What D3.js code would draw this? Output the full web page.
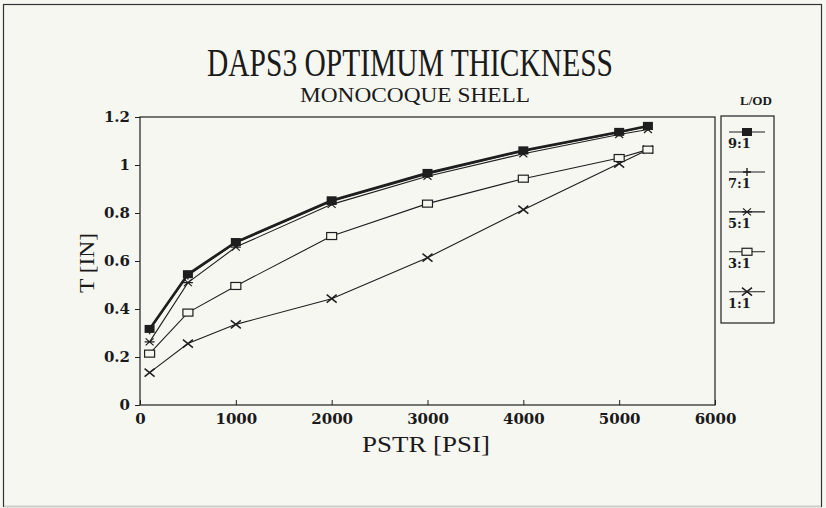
<!DOCTYPE html>
<html>
<head>
<meta charset="utf-8">
<script src="https://cdn.jsdelivr.net/npm/d3@7"></script>
<style>
  body { margin: 0; background: #f7f7f2; }
  svg { display: block; }
  text { font-family: "Liberation Serif", "DejaVu Serif", serif; fill: #1a1a1a; }
</style>
</head>
<body>
<svg id="chart" width="826" height="508"></svg>
<script>
// data
const pstr = [100, 500, 1000, 2000, 3000, 4000, 5000, 5300];
const t91 = [0.317, 0.545, 0.679, 0.853, 0.967, 1.061, 1.138, 1.163];
const t71 = [0.311, 0.540, 0.675, 0.848, 0.962, 1.057, 1.135, 1.160];
const t51 = [0.263, 0.510, 0.658, 0.836, 0.953, 1.047, 1.127, 1.148];
const t31 = [0.214, 0.385, 0.496, 0.704, 0.839, 0.943, 1.029, 1.064];
const t11 = [0.135, 0.256, 0.336, 0.443, 0.614, 0.814, 1.006, 1.064];
const seriesNames = ["9:1", "7:1", "5:1", "3:1", "1:1"];
const xTicks = [0, 1000, 2000, 3000, 4000, 5000, 6000];
const yTicks = [0, 0.2, 0.4, 0.6, 0.8, 1, 1.2];

const ink = "#1e1e1e";
const paper = "#f7f7f2";
const tickFont = '"DejaVu Serif", serif';
const svg = d3.select("#chart");

// page frame
svg.append("rect")
  .attr("x", 3.5).attr("y", 4.5)
  .attr("width", 818).attr("height", 502)
  .attr("fill", "none").attr("stroke", "#333").attr("stroke-width", 1.2);
svg.append("line")
  .attr("x1", 4).attr("x2", 821).attr("y1", 506.5).attr("y2", 506.5)
  .attr("stroke", "#ccc").attr("stroke-width", 1);

const plot = { left: 140, top: 117, right: 715, bottom: 405 };

const x = d3.scaleLinear().domain([0, 6000]).range([plot.left, plot.right]);
const y = d3.scaleLinear().domain([0, 1.2]).range([plot.bottom, plot.top]);

// plot box
svg.append("rect")
  .attr("x", plot.left).attr("y", plot.top)
  .attr("width", plot.right - plot.left).attr("height", plot.bottom - plot.top)
  .attr("fill", "none").attr("stroke", ink).attr("stroke-width", 1.2);

const fmtY = (d) => (d === 0 || d === 1 ? d3.format("d")(d) : d3.format(".1f")(d));

const yAxis = svg.append("g")
  .attr("transform", `translate(${plot.left},0)`)
  .call(d3.axisLeft(y).tickValues(yTicks).tickFormat(fmtY).tickSize(5).tickPadding(5));
yAxis.select(".domain").remove();
yAxis.selectAll("line").attr("stroke", ink);
yAxis.selectAll("text")
  .style("font-family", tickFont)
  .style("font-size", "15px").style("font-weight", "bold").attr("fill", ink);

const xAxis = svg.append("g")
  .attr("transform", `translate(0,${plot.bottom})`)
  .call(d3.axisBottom(x).tickValues(xTicks).tickFormat(d3.format("d")).tickSize(-5).tickPadding(8));
xAxis.select(".domain").remove();
xAxis.selectAll("line").attr("stroke", ink);
xAxis.selectAll("text")
  .style("font-family", tickFont)
  .style("font-size", "15px").style("font-weight", "bold").attr("fill", ink);

// titles
svg.append("text")
  .attr("x", 410).attr("y", 76)
  .attr("text-anchor", "middle")
  .attr("textLength", 406).attr("lengthAdjust", "spacingAndGlyphs")
  .style("font-size", "40px")
  .text("DAPS3  OPTIMUM THICKNESS");
svg.append("text")
  .attr("x", 415).attr("y", 102)
  .attr("text-anchor", "middle")
  .attr("textLength", 230).attr("lengthAdjust", "spacingAndGlyphs")
  .style("font-size", "20px")
  .text("MONOCOQUE SHELL");
svg.append("text")
  .attr("x", 426).attr("y", 452)
  .attr("text-anchor", "middle")
  .attr("textLength", 128).attr("lengthAdjust", "spacingAndGlyphs")
  .style("font-size", "23px")
  .text("PSTR  [PSI]");
svg.append("text")
  .attr("transform", "translate(94,263) rotate(-90)")
  .attr("text-anchor", "middle")
  .attr("textLength", 60).attr("lengthAdjust", "spacingAndGlyphs")
  .style("font-size", "20px")
  .text("T  [IN]");

// markers
const markers = {
  "9:1": (g) => g.append("rect").attr("x", -5).attr("y", -4).attr("width", 10).attr("height", 8)
    .attr("fill", ink),
  "7:1": (g) => g.append("path").attr("d", "M-4,0H4M0,-4V4")
    .attr("stroke", ink).attr("stroke-width", 1.4).attr("fill", "none"),
  "5:1": (g) => g.append("path").attr("d", "M-5,0H5M-4,-3.5L4,3.5M-4,3.5L4,-3.5")
    .attr("stroke", ink).attr("stroke-width", 1.2).attr("fill", "none"),
  "3:1": (g) => g.append("rect").attr("x", -5).attr("y", -3.5).attr("width", 10).attr("height", 7)
    .attr("fill", paper).attr("stroke", ink).attr("stroke-width", 1.2),
  "1:1": (g) => g.append("path").attr("d", "M-5,-4L5,4M-5,4L5,-4")
    .attr("stroke", ink).attr("stroke-width", 1.5).attr("fill", "none"),
};
const widths = { "9:1": 2.4, "7:1": 1.2, "5:1": 1.1, "3:1": 1.1, "1:1": 1.1 };

const allSeries = [t91, t71, t51, t31, t11];
const line = d3.line().x((d) => x(d[0])).y((d) => y(d[1]));

// draw from bottom series up so 9:1 sits on top
seriesNames.slice().reverse().forEach((name) => {
  const vals = allSeries[seriesNames.indexOf(name)];
  const pts = pstr.map((p, i) => [p, vals[i]]);
  svg.append("path")
    .datum(pts)
    .attr("d", line)
    .attr("fill", "none")
    .attr("stroke", ink)
    .attr("stroke-width", widths[name]);
  pts.forEach((p) => {
    const g = svg.append("g").attr("transform", `translate(${x(p[0])},${y(p[1])})`);
    markers[name](g);
  });
});

// legend
svg.append("text")
  .attr("x", 756).attr("y", 105)
  .attr("text-anchor", "middle")
  .attr("textLength", 32).attr("lengthAdjust", "spacingAndGlyphs")
  .style("font-size", "12px").style("font-weight", "bold")
  .text("L/OD");
svg.append("rect")
  .attr("x", 721).attr("y", 116)
  .attr("width", 53).attr("height", 207)
  .attr("fill", "none").attr("stroke", ink).attr("stroke-width", 1.2);

const legendY = d3.scalePoint().domain(seriesNames).range([132, 291.7]);
seriesNames.forEach((name) => {
  const ly = legendY(name);
  svg.append("line")
    .attr("x1", 729).attr("x2", 765).attr("y1", ly).attr("y2", ly)
    .attr("stroke", ink).attr("stroke-width", 1.1);
  markers[name](svg.append("g").attr("transform", `translate(747,${ly})`));
  svg.append("text")
    .attr("x", 728).attr("y", ly + 16)
    .style("font-family", tickFont)
    .style("font-size", "13px").style("font-weight", "bold")
    .text(name);
});
</script>
</body>
</html>
